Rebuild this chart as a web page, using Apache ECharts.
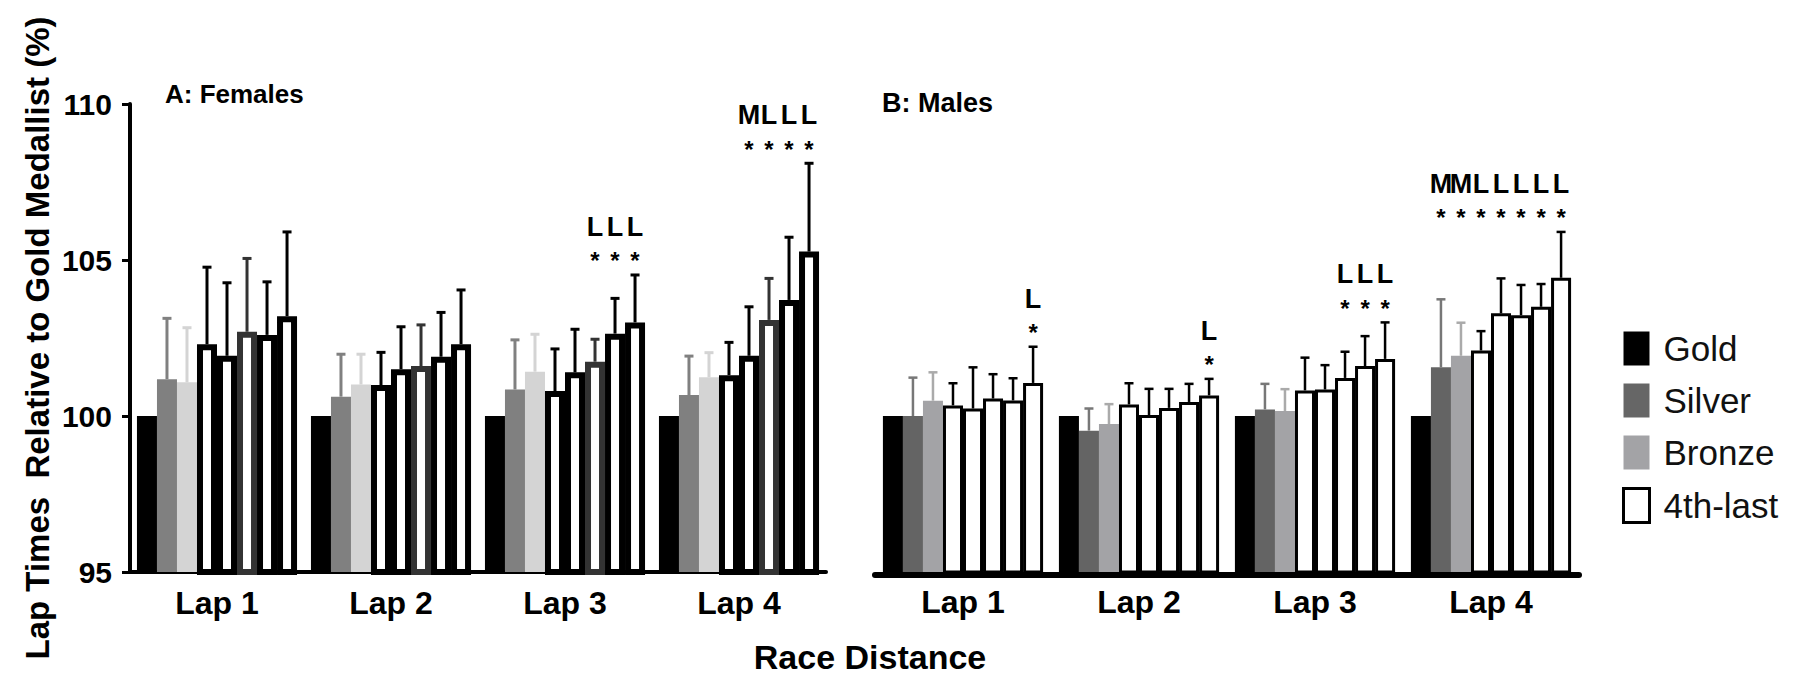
<!DOCTYPE html>
<html>
<head>
<meta charset="utf-8">
<title>Lap times relative to gold medallist</title>
<script src="https://cdn.jsdelivr.net/npm/echarts@6.0.0/dist/echarts.min.js"></script>
<style>
  html, body { margin: 0; padding: 0; background: #fff; }
  #chart { width: 1798px; height: 675px; }
</style>
</head>
<body>
<div id="chart"></div>
<script>
// data (% of gold medallist lap time)
var laps = ['Lap 1', 'Lap 2', 'Lap 3', 'Lap 4'];
var places = ['Gold', 'Silver', 'Bronze', '4th', '5th', '6th', '7th', '8th'];
var yTicks = [95, 100, 105, 110];

// rows = places, columns = laps
var femaleMean = [
  [100, 100, 100, 100],
  [101.18, 100.62, 100.85, 100.67],
  [101.08, 101.01, 101.42, 101.24],
  [102.30, 100.99, 100.80, 101.31],
  [101.93, 101.50, 101.40, 101.93],
  [102.70, 101.60, 101.74, 103.08],
  [102.60, 101.90, 102.64, 103.72],
  [103.20, 102.30, 103.00, 105.27]
];
var femaleSD = [
  [0, 0, 0, 0],
  [1.95, 1.36, 1.59, 1.25],
  [1.75, 0.97, 1.20, 0.79],
  [2.47, 1.05, 1.35, 1.05],
  [2.34, 1.36, 1.38, 1.57],
  [2.35, 1.32, 0.72, 1.33],
  [1.70, 1.42, 1.13, 2.01],
  [2.70, 1.74, 1.52, 2.83]
];
var maleMean = [
  [100, 100, 100, 100],
  [100.00, 99.53, 100.21, 101.56],
  [100.49, 99.74, 100.16, 101.93],
  [100.34, 100.37, 100.82, 102.10],
  [100.24, 100.03, 100.85, 103.29],
  [100.56, 100.26, 101.22, 103.23],
  [100.50, 100.45, 101.60, 103.50],
  [101.06, 100.66, 101.83, 104.43]
];
var maleSD = [
  [0, 0, 0, 0],
  [1.23, 0.71, 0.82, 2.18],
  [0.91, 0.64, 0.70, 1.06],
  [0.71, 0.68, 1.05, 0.62],
  [1.32, 0.84, 0.78, 1.12],
  [0.78, 0.61, 0.84, 0.97],
  [0.71, 0.58, 0.96, 0.73],
  [1.16, 0.53, 1.17, 1.47]
];
// significance letters per lap (rows) and place (columns)
var femaleSig = [
  ['', '', '', '', '', '', '', ''],
  ['', '', '', '', '', '', '', ''],
  ['', '', '', '', '', 'L', 'L', 'L'],
  ['', '', '', '', 'M', 'L', 'L', 'L']
];
var maleSig = [
  ['', '', '', '', '', '', '', 'L'],
  ['', '', '', '', '', '', '', 'L'],
  ['', '', '', '', '', 'L', 'L', 'L'],
  ['', 'M', 'M', 'L', 'L', 'L', 'L', 'L']
];

var FONT = 'Arial, "Liberation Sans", sans-serif';

// styles per place
var femaleFill = ['#000', '#808080', '#d4d4d4', '#fff', '#fff', '#fff', '#fff', '#fff'];
var femaleEdge = [null, null, null, '#000', '#000', '#333', '#000', '#000'];
var femaleErr = ['#000', '#808080', '#d4d4d4', '#000', '#000', '#333', '#000', '#000'];
var maleFill = ['#000', '#646464', '#a3a3a6', '#fff', '#fff', '#fff', '#fff', '#fff'];
var maleEdge = [null, null, null, '#000', '#000', '#000', '#000', '#000'];
var maleErr = ['#000', '#777', '#aaa', '#000', '#000', '#000', '#000', '#000'];

function barSeries(panel, means, fill, edge, bw, gap) {
  return means.map(function (row, i) {
    return {
      type: 'bar',
      name: i < 3 ? places[i] : '4th-last',
      xAxisIndex: panel, yAxisIndex: panel,
      data: row,
      barGap: '0%', barCategoryGap: gap,
      silent: true,
      itemStyle: {
        color: fill[i],
        borderColor: edge[i] || fill[i],
        borderWidth: edge[i] ? bw : 0
      }
    };
  });
}

function errorSeries(panel, means, sds, gapRatio, colors, lw) {
  var items = [];
  means.forEach(function (row, b) {
    row.forEach(function (m, l) {
      if (sds[b][l] > 0) items.push([l, m, m + sds[b][l], b]);
    });
  });
  return {
    type: 'custom', xAxisIndex: panel, yAxisIndex: panel,
    z: 5, silent: true,
    encode: { x: 0, y: [1, 2] },
    data: items,
    renderItem: function (params, api) {
      var l = api.value(0), b = api.value(3);
      var base = api.coord([l, api.value(1)]);
      var top = api.coord([l, api.value(2)]);
      var w = api.size([1, 0])[0] * (1 - gapRatio) / 8;
      var x = base[0] + (b - 3.5) * w;
      var st = { stroke: colors[b], lineWidth: lw };
      return {
        type: 'group',
        children: [
          { type: 'line', shape: { x1: x, y1: base[1], x2: x, y2: top[1] }, style: st },
          { type: 'line', shape: { x1: x - 4.5, y1: top[1], x2: x + 4.5, y2: top[1] }, style: st }
        ]
      };
    }
  };
}

function sigSeries(panel, sig, means, sds, gapRatio) {
  var items = [];
  sig.forEach(function (row, l) {
    var groupTop = Math.max.apply(null, means.map(function (r, b) { return r[l] + sds[b][l]; }));
    row.forEach(function (s, b) {
      if (s) items.push({ lap: l, place: b, letter: s, level: groupTop });
    });
  });
  return {
    type: 'custom', xAxisIndex: panel, yAxisIndex: panel,
    z: 6, silent: true,
    encode: { x: 0, y: 1 },
    data: items.map(function (it) { return [it.lap, it.level]; }),
    renderItem: function (params, api) {
      var it = items[params.dataIndex];
      var p = api.coord([it.lap, it.level]);
      var w = api.size([1, 0])[0] * (1 - gapRatio) / 8;
      var x = p[0] + (it.place - 3.5) * w;
      return {
        type: 'group',
        children: [
          { type: 'text', x: x, y: p[1] - 48,
            style: { text: it.letter, font: 'bold 27px ' + FONT, fill: '#000',
                     align: 'center', verticalAlign: 'middle' } },
          { type: 'text', x: x, y: p[1] - 14,
            style: { text: '*', font: 'bold 24px ' + FONT, fill: '#000',
                     align: 'center', verticalAlign: 'middle' } }
        ]
      };
    }
  };
}

var chart = echarts.init(document.getElementById('chart'), null, { renderer: 'svg' });

var axisLabelStyle = { fontSize: 32, fontWeight: 'bold', color: '#000', fontFamily: FONT };

var option = {
  backgroundColor: '#fff',
  animation: false,
  textStyle: { fontFamily: FONT },
  title: [
    { text: 'A: Females', left: 165, top: 81, padding: 0,
      textStyle: { fontSize: 26, fontWeight: 'bold', color: '#000', fontFamily: FONT } },
    { text: 'B: Males', left: 882, top: 89, padding: 0,
      textStyle: { fontSize: 27, fontWeight: 'bold', color: '#000', fontFamily: FONT } }
  ],
  legend: {
    orient: 'vertical', left: 1617, top: 326,
    itemWidth: 26, itemHeight: 34, itemGap: 17,
    icon: 'rect', selectedMode: false,
    textStyle: { fontSize: 35, color: '#111', fontFamily: FONT, padding: [0, 0, 0, 9] },
    data: [
      { name: 'Gold', itemStyle: { color: '#000' } },
      { name: 'Silver', itemStyle: { color: '#666' } },
      { name: 'Bronze', itemStyle: { color: '#a3a3a6' } },
      { name: '4th-last', itemStyle: { color: '#fff', borderColor: '#000', borderWidth: 3 } }
    ]
  },
  grid: [
    { left: 130, top: 104, width: 696, height: 468 },
    { left: 875, top: 104, width: 704, height: 468 }
  ],
  xAxis: [
    { type: 'category', gridIndex: 0, data: laps,
      axisLine: { lineStyle: { color: '#000', width: 4 } },
      axisTick: { alignWithLabel: true, length: 9, lineStyle: { color: '#000', width: 3 } },
      axisLabel: Object.assign({ margin: 15 }, axisLabelStyle) },
    { type: 'category', gridIndex: 1, data: laps, offset: 3,
      axisLine: { lineStyle: { color: '#000', width: 6 } },
      axisTick: { alignWithLabel: true, length: 4, lineStyle: { color: '#000', width: 3 } },
      axisLabel: Object.assign({ margin: 11 }, axisLabelStyle) }
  ],
  yAxis: [
    { type: 'value', gridIndex: 0, min: yTicks[0], max: yTicks[yTicks.length - 1], interval: 5,
      name: 'Lap Times  Relative to Gold Medallist (%)',
      nameLocation: 'middle', nameRotate: 90, nameGap: 76,
      nameTextStyle: { fontSize: 33, fontWeight: 'bold', color: '#000', fontFamily: FONT },
      splitLine: { show: false },
      axisLine: { show: true, lineStyle: { color: '#000', width: 4 } },
      axisTick: { show: true, length: 8, lineStyle: { color: '#000', width: 3 } },
      axisLabel: { margin: 18, fontSize: 30, fontWeight: 'bold', color: '#000', fontFamily: FONT } },
    { type: 'value', gridIndex: 1, min: yTicks[0], max: yTicks[yTicks.length - 1], interval: 5,
      show: false, splitLine: { show: false } }
  ],
  graphic: [
    { type: 'text', x: 870, y: 657, silent: true,
      style: { text: 'Race Distance', font: 'bold 34px ' + FONT, fill: '#000',
               align: 'center', verticalAlign: 'middle' } }
  ],
  series: []
    .concat(barSeries(0, femaleMean, femaleFill, femaleEdge, 6, '8%'))
    .concat(barSeries(1, maleMean, maleFill, maleEdge, 3, '9%'))
    .concat([
      errorSeries(0, femaleMean, femaleSD, 0.08, femaleErr, 3),
      errorSeries(1, maleMean, maleSD, 0.09, maleErr, 2.5),
      sigSeries(0, femaleSig, femaleMean, femaleSD, 0.08),
      sigSeries(1, maleSig, maleMean, maleSD, 0.09)
    ])
};

chart.setOption(option);
</script>
</body>
</html>
